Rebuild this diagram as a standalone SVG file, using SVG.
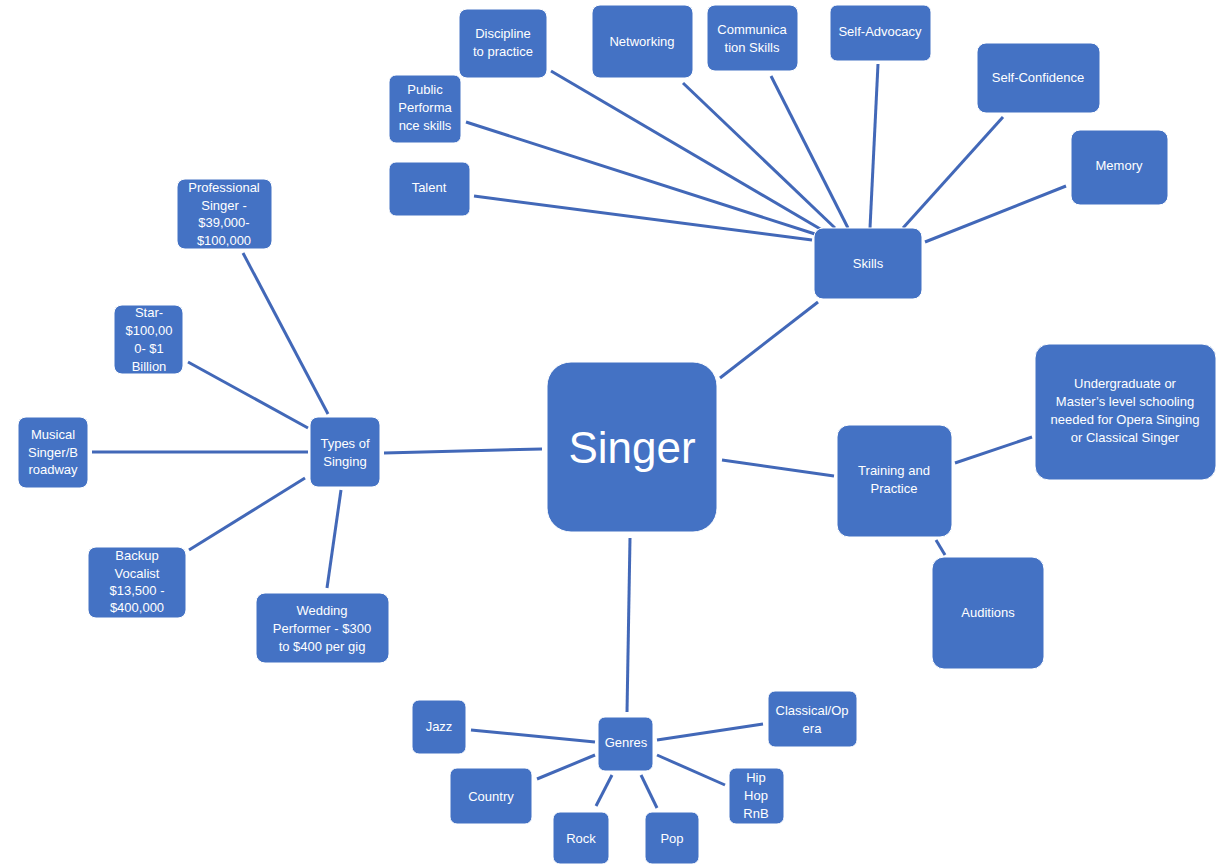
<svg xmlns="http://www.w3.org/2000/svg" width="1225" height="865" viewBox="0 0 1225 865">
<style>
.n{fill:#4472C4;stroke:#ffffff;stroke-width:1}
.t{fill:#ffffff;font-family:"Liberation Sans",Arial,sans-serif;font-size:13px;text-anchor:middle}
.c line{stroke:#4268B8;stroke-width:3;stroke-linecap:butt}
</style>
<rect width="1225" height="865" fill="#ffffff"/>
<g class="c" id="connectors">
<line x1="474" y1="196" x2="812" y2="240"/>
<line x1="466" y1="122" x2="815" y2="234"/>
<line x1="551" y1="71" x2="822" y2="230"/>
<line x1="683" y1="83" x2="835" y2="228"/>
<line x1="771" y1="76" x2="848" y2="228"/>
<line x1="878" y1="64" x2="870" y2="228"/>
<line x1="1003" y1="117" x2="903" y2="228"/>
<line x1="1066" y1="186" x2="925" y2="242"/>
<line x1="720" y1="378" x2="818" y2="302"/>
<line x1="722" y1="460" x2="834" y2="476"/>
<line x1="955" y1="463" x2="1032" y2="437"/>
<line x1="936" y1="540" x2="945" y2="555"/>
<line x1="384" y1="453" x2="542" y2="449"/>
<line x1="243" y1="253" x2="328" y2="414"/>
<line x1="188" y1="362" x2="308" y2="428"/>
<line x1="92" y1="452" x2="308" y2="452"/>
<line x1="189" y1="550" x2="305" y2="478"/>
<line x1="327" y1="588" x2="341" y2="490"/>
<line x1="630" y1="538" x2="627" y2="712"/>
<line x1="471" y1="730" x2="595" y2="742"/>
<line x1="657" y1="740" x2="763" y2="724"/>
<line x1="537" y1="779" x2="595" y2="755"/>
<line x1="596" y1="806" x2="612" y2="775"/>
<line x1="657" y1="808" x2="641" y2="775"/>
<line x1="657" y1="755" x2="725" y2="785"/>
</g>
<g id="singer"><rect class="n" x="547" y="362" width="170" height="170" rx="24"/><text class="t" x="632" y="463" style="font-size:44px">Singer</text></g>
<g id="skills"><rect class="n" x="814" y="228" width="108" height="71" rx="9"/><text class="t" x="868" y="268">Skills</text></g>
<g id="talent"><rect class="n" x="389" y="162" width="81" height="54" rx="7"/><text class="t" x="429" y="192">Talent</text></g>
<g id="public"><rect class="n" x="389" y="75" width="72" height="68" rx="7"/><text class="t" x="425" y="94">Public</text><text class="t" x="425" y="112">Performa</text><text class="t" x="425" y="130">nce skills</text></g>
<g id="discipline"><rect class="n" x="459" y="9" width="88" height="69" rx="8"/><text class="t" x="503" y="38">Discipline</text><text class="t" x="503" y="56">to practice</text></g>
<g id="networking"><rect class="n" x="592" y="5" width="101" height="73" rx="8"/><text class="t" x="642" y="46">Networking</text></g>
<g id="communication"><rect class="n" x="707" y="5" width="91" height="66" rx="8"/><text class="t" x="752" y="34">Communica</text><text class="t" x="752" y="52">tion Skills</text></g>
<g id="selfadvocacy"><rect class="n" x="830" y="5" width="101" height="56" rx="7"/><text class="t" x="880" y="36">Self-Advocacy</text></g>
<g id="selfconfidence"><rect class="n" x="977" y="43" width="123" height="70" rx="9"/><text class="t" x="1038" y="82">Self-Confidence</text></g>
<g id="memory"><rect class="n" x="1071" y="130" width="97" height="75" rx="9"/><text class="t" x="1119" y="170">Memory</text></g>
<g id="training"><rect class="n" x="837" y="425" width="115" height="112" rx="12"/><text class="t" x="894" y="475">Training and</text><text class="t" x="894" y="493">Practice</text></g>
<g id="undergrad"><rect class="n" x="1035" y="344" width="181" height="136" rx="14"/><text class="t" x="1125" y="388">Undergraduate or</text><text class="t" x="1125" y="406">Master’s level schooling</text><text class="t" x="1125" y="424">needed for Opera Singing</text><text class="t" x="1125" y="442">or Classical Singer</text></g>
<g id="auditions"><rect class="n" x="932" y="557" width="112" height="112" rx="12"/><text class="t" x="988" y="617">Auditions</text></g>
<g id="types"><rect class="n" x="310" y="417" width="70" height="70" rx="8"/><text class="t" x="345" y="448">Types of</text><text class="t" x="345" y="466">Singing</text></g>
<g id="professional"><rect class="n" x="177" y="179" width="95" height="70" rx="8"/><text class="t" x="224" y="192">Professional</text><text class="t" x="224" y="210">Singer -</text><text class="t" x="224" y="227">$39,000-</text><text class="t" x="224" y="245">$100,000</text></g>
<g id="star"><rect class="n" x="114" y="305" width="69" height="69" rx="8"/><text class="t" x="149" y="317">Star-</text><text class="t" x="149" y="335">$100,00</text><text class="t" x="149" y="353">0- $1</text><text class="t" x="149" y="371">Billion</text></g>
<g id="musical"><rect class="n" x="18" y="417" width="70" height="71" rx="8"/><text class="t" x="53" y="439">Musical</text><text class="t" x="53" y="457">Singer/B</text><text class="t" x="53" y="474">roadway</text></g>
<g id="backup"><rect class="n" x="88" y="547" width="98" height="71" rx="8"/><text class="t" x="137" y="560">Backup</text><text class="t" x="137" y="578">Vocalist</text><text class="t" x="137" y="595">$13,500 -</text><text class="t" x="137" y="612">$400,000</text></g>
<g id="wedding"><rect class="n" x="256" y="593" width="133" height="70" rx="9"/><text class="t" x="322" y="615">Wedding</text><text class="t" x="322" y="633">Performer - $300</text><text class="t" x="322" y="651">to $400 per gig</text></g>
<g id="genres"><rect class="n" x="598" y="717" width="55" height="54" rx="7"/><text class="t" x="626" y="747">Genres</text></g>
<g id="jazz"><rect class="n" x="412" y="700" width="54" height="54" rx="7"/><text class="t" x="439" y="731">Jazz</text></g>
<g id="classical"><rect class="n" x="768" y="691" width="89" height="56" rx="7"/><text class="t" x="812" y="715">Classical/Op</text><text class="t" x="812" y="733">era</text></g>
<g id="country"><rect class="n" x="450" y="768" width="82" height="56" rx="7"/><text class="t" x="491" y="801">Country</text></g>
<g id="rock"><rect class="n" x="553" y="812" width="56" height="52" rx="7"/><text class="t" x="581" y="843">Rock</text></g>
<g id="pop"><rect class="n" x="645" y="812" width="54" height="52" rx="7"/><text class="t" x="672" y="843">Pop</text></g>
<g id="hiphop"><rect class="n" x="729" y="768" width="55" height="56" rx="7"/><text class="t" x="756" y="782">Hip</text><text class="t" x="756" y="800">Hop</text><text class="t" x="756" y="818">RnB</text></g>
</svg>
